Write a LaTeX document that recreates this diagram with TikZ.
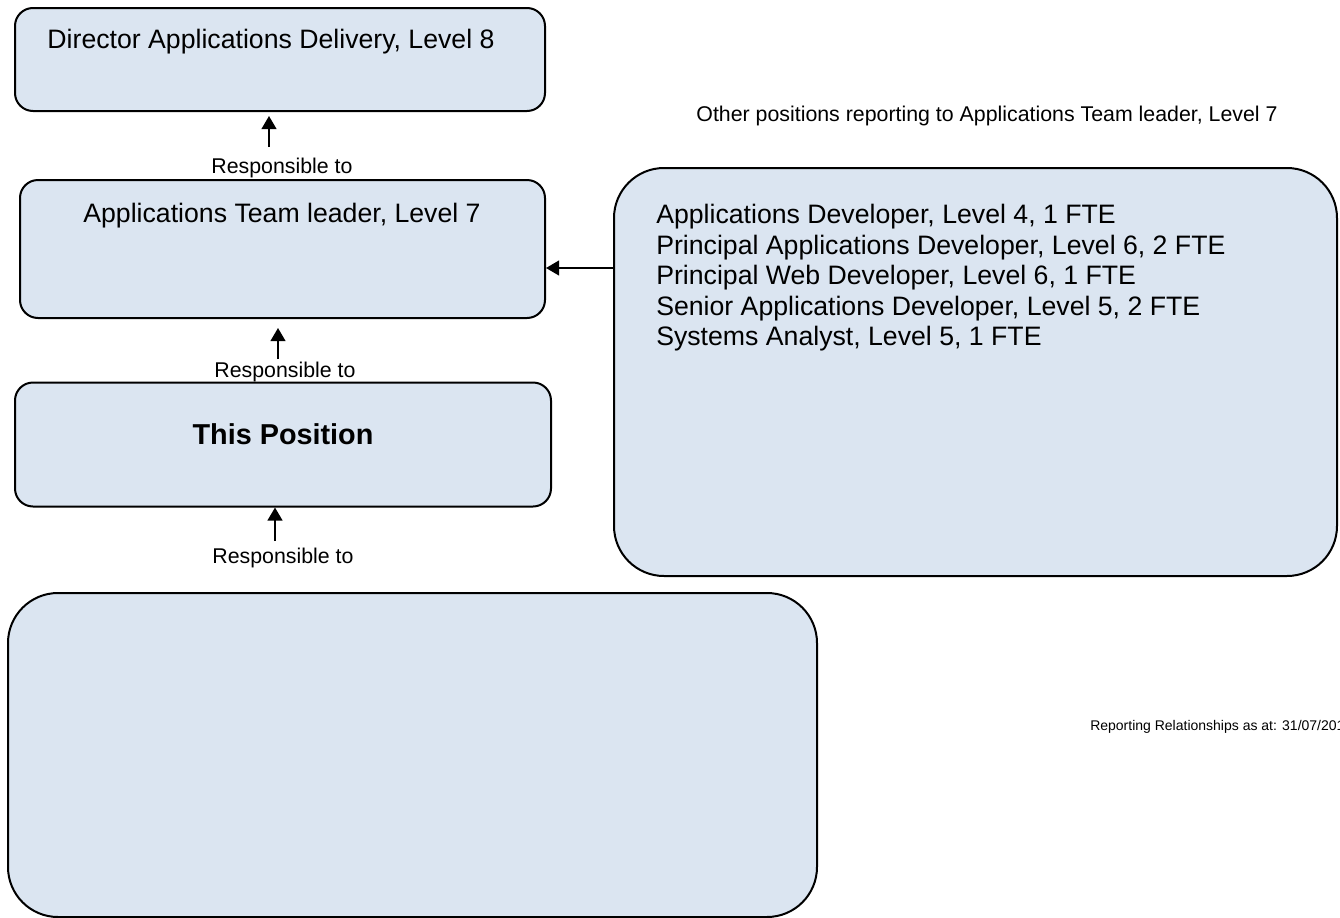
\documentclass[tikz,border=0pt]{standalone}
\usepackage{fontspec}
\setmainfont{Liberation Sans}
\usetikzlibrary{arrows.meta}
\usepackage{xcolor}
\definecolor{posfill}{HTML}{DBE5F1}

\begin{document}
\begin{tikzpicture}[x=0.75pt,y=-0.75pt,>={Triangle[length=9.75pt,width=11pt]},
	posbox/.style={draw,line width=1.5pt,fill=posfill,rounded corners=13.5pt,inner sep=0pt},
	bigbox/.style={posbox,rounded corners=37.5pt},
	title/.style={anchor=base,inner sep=0pt,font=\fontsize{20pt}{22.9pt}\selectfont},
	resp/.style={anchor=base,inner sep=0pt,font=\fontsize{16pt}{19pt}\selectfont},
	respline/.style={->,line width=1.5pt}]
	\useasboundingbox (0,0) rectangle (1340,918);

	\node[posbox,minimum width=397.5pt,minimum height=77.25pt](dir) at (280,59.5){};
	\node[posbox,minimum width=393.75pt,minimum height=103.5pt](lead) at (282.5,249){};
	\node[posbox,minimum width=402pt,minimum height=93pt](this) at (283,444.5){};
	\node[bigbox,minimum width=542.25pt,minimum height=306pt](others) at (975.5,372){};
	\node[bigbox,minimum width=606.75pt,minimum height=243pt](below) at (412.5,755){};

	\node[title](dirtext) at (271,48) {Director Applications Delivery, Level 8};
	\node[title](leadtext) at (282,222) {Applications Team leader, Level 7};
	\node[title,font=\fontsize{21.6pt}{24pt}\selectfont\bfseries](thistext) at (283,444) {This Position};

	\node[resp](r1) at (282,173) {Responsible to};
	\node[resp](r2) at (285,377) {Responsible to};
	\node[resp](r3) at (283,563) {Responsible to};

	\node[resp](othertitle) at (987,121) {Other positions reporting to Applications Team leader, Level 7};
	\node[title,anchor=north west,align=left](otherlist) at (656,204) {Applications Developer, Level 4, 1 FTE\\
		Principal Applications Developer, Level 6, 2 FTE\\
		Principal Web Developer, Level 6, 1 FTE\\
		Senior Applications Developer, Level 5, 2 FTE\\
		Systems Analyst, Level 5, 1 FTE};

	\node[resp,anchor=base west,font=\fontsize{10.5pt}{12pt}\selectfont](asat) at (1090,730) {Reporting Relationships as at: 31/07/2015};

	\coordinate (t1) at (269,147);
	\coordinate (t2) at (278,359);
	\coordinate (t3) at (275,541);
	\coordinate (h) at (614,268);
	\draw[respline] (t1) -- ([yshift=-3pt]dir.south -| t1);
	\draw[respline] (t2) -- ([yshift=-6.75pt]lead.south -| t2);
	\draw[respline] (t3) -- (this.south -| t3);
	\draw[respline] (h) -- (h -| lead.east);
\end{tikzpicture}
\end{document}
